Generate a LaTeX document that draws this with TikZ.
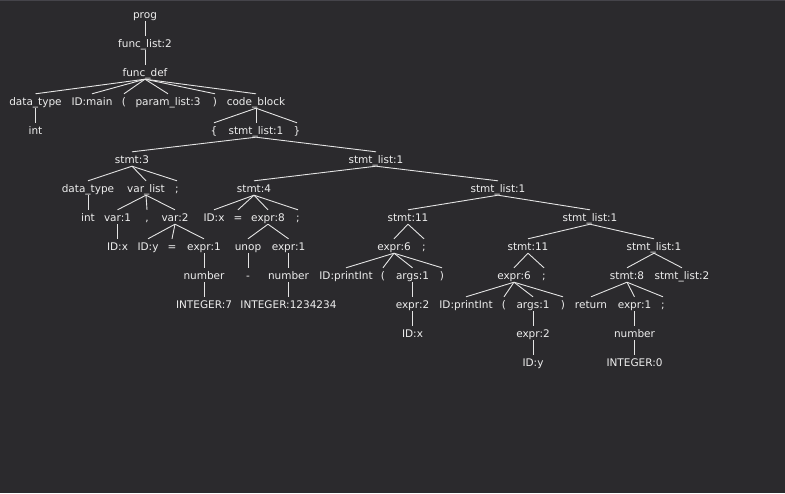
\documentclass[tikz,border=0pt]{standalone}
\usepackage{fontspec}
\setmainfont{DejaVu Sans}
\definecolor{bg}{HTML}{2B2A2D}
\definecolor{topline}{HTML}{45444A}
\definecolor{fg}{HTML}{EEEEEE}
\definecolor{edge}{HTML}{E4E4E4}
\tikzset{
  t/.style={text=fg, inner sep=0pt, text height=11pt, text depth=3pt, anchor=base, font=\fontsize{10.5}{12}\selectfont},
  e/.style={draw=edge, line width=0.9pt}
}
\begin{document}
\begin{tikzpicture}[x=1pt,y=-1pt]
\fill[bg] (0,0) rectangle (785,493);
\useasboundingbox (0,0) rectangle (785,493);
\draw[topline, line width=1pt] (0,0.5) -- (785,0.5);
% rows (baselines)
\node[t] (prog) at (145,18) {prog};
\node[t] (fl2) at (145,47) {func\_list:2};
\node[t] (fdef) at (145,76) {func\_def};
\node[t] (dt1) at (35.5,105) {data\_type};
\node[t] (idmain) at (92,105) {ID:main};
\node[t] (lp1) at (124,105) {(};
\node[t] (pl3) at (168,105) {param\_list:3};
\node[t] (rp1) at (215,105) {)};
\node[t] (cb) at (256,105) {code\_block};
\node[t] (int1) at (35.5,134) {int};
\node[t] (lb) at (214,134) {\{};
\node[t] (sl1a) at (256,134) {stmt\_list:1};
\node[t] (rb) at (297,134) {\}};
\node[t] (st3) at (132,163) {stmt:3};
\node[t] (sl1b) at (376,163) {stmt\_list:1};
\node[t] (dt2) at (88,192) {data\_type};
\node[t] (vl) at (146,192) {var\_list};
\node[t] (semi1) at (177,192) {;};
\node[t] (st4) at (254,192) {stmt:4};
\node[t] (sl1c) at (498,192) {stmt\_list:1};
\node[t] (int2) at (88,221) {int};
\node[t] (var1) at (117.5,221) {var:1};
\node[t] (comma) at (147,221) {,};
\node[t] (var2) at (175,221) {var:2};
\node[t] (idx1) at (214,221) {ID:x};
\node[t] (eq1) at (238,221) {=};
\node[t] (e8) at (268,221) {expr:8};
\node[t] (semi2) at (298,221) {;};
\node[t] (st11a) at (408,221) {stmt:11};
\node[t] (sl1d) at (590,221) {stmt\_list:1};
\node[t] (idx2) at (117.5,250) {ID:x};
\node[t] (idy1) at (148,250) {ID:y};
\node[t] (eq2) at (172,250) {=};
\node[t] (e1a) at (204,250) {expr:1};
\node[t] (unop) at (248,250) {unop};
\node[t] (e1b) at (288.5,250) {expr:1};
\node[t] (e6a) at (394,250) {expr:6};
\node[t] (semi3) at (424,250) {;};
\node[t] (st11b) at (528,250) {stmt:11};
\node[t] (sl1e) at (654,250) {stmt\_list:1};
\node[t] (num1) at (204,279) {number};
\node[t] (minus) at (248,279) {-};
\node[t] (num2) at (288.5,279) {number};
\node[t] (pi1) at (346,279) {ID:printInt};
\node[t] (lp2) at (383,279) {(};
\node[t] (args1) at (412.5,279) {args:1};
\node[t] (rp2) at (442,279) {)};
\node[t] (e6b) at (514,279) {expr:6};
\node[t] (semi4) at (544,279) {;};
\node[t] (st8) at (627,279) {stmt:8};
\node[t] (sl2) at (682,279) {stmt\_list:2};
\node[t] (i7) at (204,308) {INTEGER:7};
\node[t] (i1234) at (288.5,308) {INTEGER:1234234};
\node[t] (e2a) at (412.5,308) {expr:2};
\node[t] (pi2) at (466,308) {ID:printInt};
\node[t] (lp3) at (504,308) {(};
\node[t] (args2) at (533,308) {args:1};
\node[t] (rp3) at (563,308) {)};
\node[t] (ret) at (591,308) {return};
\node[t] (e1c) at (634.5,308) {expr:1};
\node[t] (semi5) at (663,308) {;};
\node[t] (idx3) at (412.5,337) {ID:x};
\node[t] (e2b) at (533,337) {expr:2};
\node[t] (num3) at (634.5,337) {number};
\node[t] (idy2) at (533,366) {ID:y};
\node[t] (i0) at (634.5,366) {INTEGER:0};
% edges
\foreach \p/\c in {prog/fl2, fl2/fdef,
  fdef/dt1, fdef/idmain, fdef/lp1, fdef/pl3, fdef/rp1, fdef/cb,
  dt1/int1, cb/lb, cb/sl1a, cb/rb,
  sl1a/st3, sl1a/sl1b,
  st3/dt2, st3/vl, st3/semi1, dt2/int2,
  vl/var1, vl/comma, vl/var2, var1/idx2,
  var2/idy1, var2/eq2, var2/e1a, e1a/num1, num1/i7,
  sl1b/st4, sl1b/sl1c,
  st4/idx1, st4/eq1, st4/e8, st4/semi2,
  e8/unop, e8/e1b, unop/minus, e1b/num2, num2/i1234,
  sl1c/st11a, sl1c/sl1d,
  st11a/e6a, st11a/semi3,
  e6a/pi1, e6a/lp2, e6a/args1, e6a/rp2, args1/e2a, e2a/idx3,
  sl1d/st11b, sl1d/sl1e,
  st11b/e6b, st11b/semi4,
  e6b/pi2, e6b/lp3, e6b/args2, e6b/rp3, args2/e2b, e2b/idy2,
  sl1e/st8, sl1e/sl2,
  st8/ret, st8/e1c, st8/semi5, e1c/num3, num3/i0}
  \draw[e] (\p.south) -- (\c.north);
\end{tikzpicture}
\end{document}
